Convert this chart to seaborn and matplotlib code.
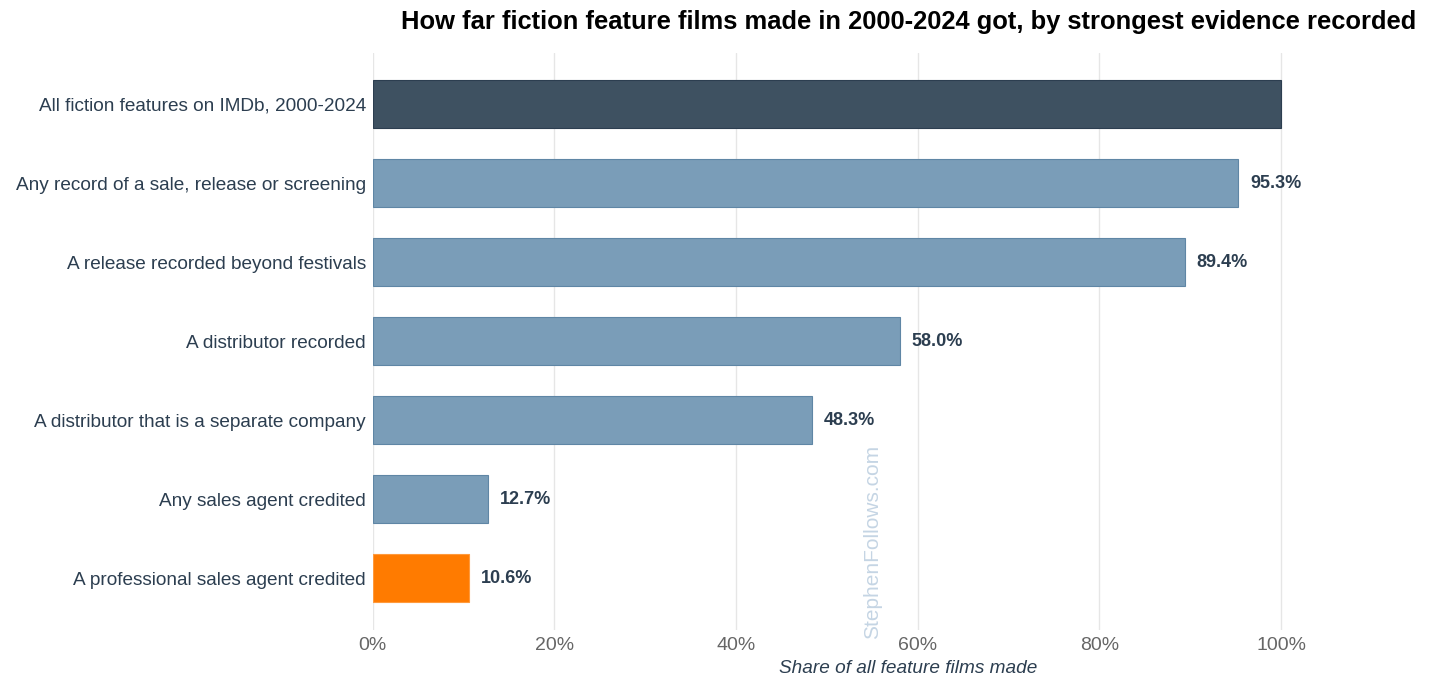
import matplotlib
matplotlib.use("Agg")
import matplotlib.pyplot as plt
import seaborn as sns
import pandas as pd
from matplotlib.ticker import FuncFormatter

# data
stages = [
    "All fiction features on IMDb, 2000-2024",
    "Any record of a sale, release or screening",
    "A release recorded beyond festivals",
    "A distributor recorded",
    "A distributor that is a separate company",
    "Any sales agent credited",
    "A professional sales agent credited",
]
shares = [100.0, 95.3, 89.4, 58.0, 48.3, 12.7, 10.6]
bar_colors = ["#3e5161", "#7a9db8", "#7a9db8", "#7a9db8", "#7a9db8", "#7a9db8", "#ff7b00"]
edge_colors = ["#2c3e50", "#5f86a5", "#5f86a5", "#5f86a5", "#5f86a5", "#5f86a5", "#ff9a3c"]

df = pd.DataFrame({"stage": stages, "share": shares})

sns.set_style("white")
plt.rcParams["font.family"] = ["Liberation Sans", "DejaVu Sans"]

fig = plt.figure(figsize=(14.56, 6.89), dpi=100)
ax = fig.add_axes([0.256, 0.086, 0.7175, 0.837])

sns.barplot(data=df, x="share", y="stage", hue="stage", palette=bar_colors,
            legend=False, width=0.61, ax=ax, saturation=1)
for patch, ec in zip(ax.patches, edge_colors):
    patch.set_edgecolor(ec)
    patch.set_linewidth(0.8)
    patch.set_zorder(3)

# value labels (not on the first bar)
for i, v in enumerate(shares):
    if i == 0:
        continue
    ax.text(v + 1.3, i, f"{v:.1f}%", va="center", ha="left",
            fontsize=13, fontweight="bold", color="#2c3e50")

ax.set_xlim(0, 115)
ax.set_ylim(6.65, -0.65)
ax.set_xticks([0, 20, 40, 60, 80, 100])
ax.xaxis.set_major_formatter(FuncFormatter(lambda x, p: f"{x:.0f}%"))
ax.grid(axis="x", color="#e6e6e6", linewidth=1, zorder=0)
ax.set_axisbelow(True)
for s in ax.spines.values():
    s.set_visible(False)
ax.tick_params(axis="x", labelsize=14, labelcolor="#666666", length=0, pad=5)
ax.tick_params(axis="y", labelsize=13.7, labelcolor="#2c3e50", length=0, pad=5)
ax.set_ylabel("")
ax.set_xlabel("Share of all feature films made", fontsize=13.7, style="italic",
              color="#2c3e50", labelpad=6)
ax.xaxis.set_label_coords(0.513, -0.053)

ax.set_title("How far fiction feature films made in 2000-2024 got, by strongest evidence recorded",
             fontsize=18.4, fontweight="bold", color="black", pad=17, x=0.513)

# watermark
fig.text(0.599, 0.213, "StephenFollows.com", rotation=90, fontsize=15,
         color="#c5d5e4", ha="center", va="center")

fig.savefig("out.png", dpi=100)
